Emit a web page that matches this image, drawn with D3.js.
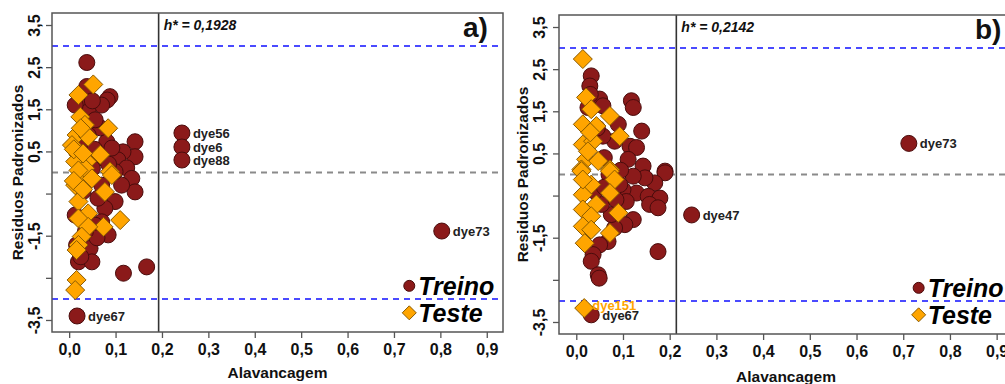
<!DOCTYPE html>
<html>
<head>
<meta charset="utf-8">
<script src="https://cdn.jsdelivr.net/npm/d3@7"></script>
<style>
  body { margin: 0; background: #fff; }
  svg text { font-family: "Liberation Sans", Arial, sans-serif; }
</style>
</head>
<body>
<svg id="chart" width="1005" height="384"></svg>
<script>
// ---- data ----
// panel a) training set (circles) [leverage, std residual]
var treinoA = [
  [0.038, 2.61], [0.088, 1.80], [0.082, 1.72], [0.070, 1.60], [0.024, 1.65], [0.038, 2.04],
  [0.041, 1.44], [0.142, 0.73], [0.142, 0.375], [0.116, 0.49], [0.105, 0.30], [0.081, 0.73],
  [0.067, 1.06], [0.056, 1.25], [0.092, 0.58], [0.062, 0.34], [0.041, 0.89], [0.013, 1.60],
  [0.124, 0.11], [0.135, -0.14], [0.142, -0.46], [0.113, -0.30], [0.099, -0.69], [0.077, -0.85],
  [0.070, -1.17], [0.084, -1.48], [0.056, -1.25], [0.045, -1.80], [0.020, -2.12], [0.049, -2.12],
  [0.117, -2.39], [0.167, -2.24], [0.013, -1.01], [0.041, -0.06], [0.062, -0.61], [0.016, -1.72],
  [0.099, 0.02], [0.030, 0.60], [0.050, 0.10], [0.030, -0.45], [0.060, -1.55], [0.025, -2.00],
  [0.055, 0.55], [0.070, -0.30], [0.085, 0.20], [0.050, 1.70], [0.035, -1.40],
  [0.243, 0.937], [0.243, 0.605], [0.243, 0.296], [0.803, -1.389], [0.017, -3.405]
];
// panel a) test set (diamonds)
var testeA = [
  [0.052, 2.09], [0.020, 1.84], [0.024, 1.32], [0.034, 1.13], [0.084, 1.05], [0.016, 0.89],
  [0.041, 0.85], [0.020, 0.42], [0.067, 0.42], [0.038, 0.26], [0.013, 0.26], [0.088, 0.02],
  [0.006, 0.65], [0.092, -0.06], [0.077, -0.46], [0.020, -0.69], [0.041, -0.97], [0.020, -1.09],
  [0.074, -1.29], [0.110, -1.13], [0.041, -1.29], [0.027, -1.52], [0.020, -1.72], [0.016, -1.84],
  [0.016, -2.55], [0.013, -2.79], [0.020, -0.14], [0.034, 0.10], [0.013, -0.30], [0.049, -0.14],
  [0.010, 0.55], [0.030, 0.45], [0.020, 0.05], [0.010, -0.20], [0.030, -0.40], [0.025, 1.05]
];
// panel b) training set (circles)
var treinoB = [
  [0.032, 2.34], [0.029, 2.10], [0.050, 1.79], [0.057, 1.63], [0.118, 1.75], [0.122, 1.59],
  [0.090, 1.19], [0.140, 1.03], [0.115, 0.67], [0.129, 0.64], [0.082, 0.79], [0.111, 0.36],
  [0.143, 0.20], [0.190, 0.08], [0.057, 0.91], [0.025, 1.59], [0.190, 0.04], [0.168, -0.20],
  [0.147, -0.08], [0.122, -0.04], [0.129, -0.44], [0.154, -0.52], [0.179, -0.56], [0.157, -0.71],
  [0.175, -0.79], [0.100, -0.36], [0.107, -0.64], [0.122, -1.07], [0.104, -1.19], [0.082, -1.27],
  [0.068, -1.59], [0.050, -1.67], [0.036, -1.90], [0.032, -2.06], [0.047, -2.38], [0.049, -2.46],
  [0.175, -1.83], [0.093, -0.24], [0.075, -0.95], [0.054, -0.71], [0.060, 0.40], [0.045, 1.10],
  [0.070, 0.00], [0.040, -0.40], [0.030, 1.90], [0.095, 0.10], [0.060, -0.30], [0.085, -0.60],
  [0.712, 0.738], [0.247, -0.96], [0.032, -3.33]
];
// panel b) test set (diamonds)
var testeB = [
  [0.014, 2.74], [0.021, 1.83], [0.032, 1.55], [0.072, 1.39], [0.014, 1.19], [0.043, 1.15],
  [0.093, 0.91], [0.014, 0.71], [0.036, 0.79], [0.021, 0.36], [0.047, 0.32], [0.072, 0.12],
  [0.011, 0.12], [0.011, 0.08], [0.032, -0.24], [0.072, 0.08], [0.082, -0.12], [0.072, -0.44],
  [0.014, -0.48], [0.043, -0.71], [0.014, -0.83], [0.090, -0.91], [0.032, -0.99], [0.014, -1.23],
  [0.032, -1.31], [0.072, -1.39], [0.018, -1.63], [0.014, -0.12], [0.025, 0.55], [0.030, 1.00],
  [0.017, -3.17]
];
// labelled compounds [name, leverage, residual]
var rotulosA = [["dye56", 0.243, 0.937], ["dye6", 0.243, 0.605], ["dye88", 0.243, 0.296],
                ["dye73", 0.803, -1.389], ["dye67", 0.017, -3.405]];
var rotulosB = [["dye73", 0.712, 0.738], ["dye47", 0.247, -0.96], ["dye67", 0.032, -3.33]];
var rotuloTesteB = [["dye151", 0.017, -3.17]];

var xTicks = [0, 0.1, 0.2, 0.3, 0.4, 0.5, 0.6, 0.7, 0.8, 0.9];
var yTicks = [3.5, 2.5, 1.5, 0.5, -0.5, -1.5, -2.5, -3.5];
var yTickLabels = ["3,5", "2,5", "1,5", "0,5", "", "-1,5", "", "-3,5"];
var hStar = [0.1928, 0.2142];
var limite = 3;   // +-3 std residual lines

var svg = d3.select("#chart");
var corTreino = "#8b1a1a", bordaTreino = "#4a0c0c";
var corTeste = "#ffa500", bordaTeste = "#8a5a00";

function diamond(r) {
  return "M0," + (-r) + "L" + r + ",0L0," + r + "L" + (-r) + ",0Z";
}

function drawPanel(p) {
  var x = d3.scaleLinear().domain([-0.037, 0.935]).range([p.left, p.right]);
  var y = d3.scaleLinear().domain([-3.785, 3.785]).range([p.bottom, p.top]);
  var g = svg.append("g");

  // reference lines
  g.append("line")
    .attr("x1", p.left).attr("x2", p.right)
    .attr("y1", y(0)).attr("y2", y(0))
    .attr("stroke", "#8a8a8a").attr("stroke-width", 2).attr("stroke-dasharray", "6,5");
  [limite, -limite].forEach(function(v) {
    g.append("line")
      .attr("x1", p.left).attr("x2", p.right)
      .attr("y1", y(v)).attr("y2", y(v))
      .attr("stroke", "#4a4aff").attr("stroke-width", 2).attr("stroke-dasharray", "6,5");
  });
  g.append("line")
    .attr("x1", x(p.h)).attr("x2", x(p.h))
    .attr("y1", p.top).attr("y2", p.bottom)
    .attr("stroke", "#333").attr("stroke-width", 1.6);

  // points: training then test
  g.selectAll(".tr").data(p.treino).enter().append("circle")
    .attr("cx", function(d) { return x(d[0]); })
    .attr("cy", function(d) { return y(d[1]); })
    .attr("r", p.r)
    .attr("fill", corTreino).attr("stroke", bordaTreino).attr("stroke-width", 1);
  g.selectAll(".te").data(p.teste).enter().append("path")
    .attr("d", diamond(p.r + 1.5))
    .attr("transform", function(d) { return "translate(" + x(d[0]) + "," + y(d[1]) + ")"; })
    .attr("fill", corTeste).attr("stroke", bordaTeste).attr("stroke-width", 1);

  // point labels
  g.selectAll(".lab").data(p.rotulos).enter().append("text")
    .attr("x", function(d) { return x(d[1]) + p.r + 3; })
    .attr("y", function(d) { return y(d[2]); })
    .attr("dy", "0.36em")
    .attr("font-size", 13).attr("font-weight", "bold").attr("fill", "#222")
    .text(function(d) { return d[0]; });
  if (p.rotulosTeste) {
    g.selectAll(".labt").data(p.rotulosTeste).enter().append("text")
      .attr("x", function(d) { return x(d[1]) + p.r; })
      .attr("y", function(d) { return y(d[2]) - 3; })
      .attr("dy", "0.36em")
      .attr("font-size", 13).attr("font-weight", "bold").attr("fill", corTeste)
      .text(function(d) { return d[0]; });
  }

  // box
  g.append("rect")
    .attr("x", p.left).attr("y", p.top)
    .attr("width", p.right - p.left).attr("height", p.bottom - p.top)
    .attr("fill", "none").attr("stroke", "#555").attr("stroke-width", 1.5);

  // axes
  var xAxis = g.append("g").attr("transform", "translate(0," + p.bottom + ")")
    .call(d3.axisBottom(x).tickValues(xTicks).tickSize(6).tickPadding(6)
      .tickFormat(function(d) { return d3.format(".1f")(d).replace(".", ","); }));
  var yAxis = g.append("g").attr("transform", "translate(" + p.left + ",0)")
    .call(d3.axisLeft(y).tickValues(yTicks).tickSize(6)
      .tickFormat(function(d, i) { return yTickLabels[i]; }));
  [xAxis, yAxis].forEach(function(a) {
    a.select(".domain").remove();
    a.selectAll("line").attr("stroke", "#555").attr("stroke-width", 1.3);
    a.selectAll("text").attr("font-size", 16).attr("font-weight", "bold").attr("fill", "#111")
      .attr("font-family", "Liberation Sans, Arial, sans-serif");
  });
  yAxis.selectAll("text")
    .attr("x", null).attr("dy", null).attr("text-anchor", "middle")
    .attr("transform", "translate(" + (-p.left + p.ylabX) + ",0) rotate(-90) translate(0,5)");

  // axis titles
  g.append("text")
    .attr("x", (p.left + p.right) / 2).attr("y", p.xTitleY)
    .attr("text-anchor", "middle")
    .attr("font-size", 15.5).attr("font-weight", "bold").attr("fill", "#111")
    .text("Alavancagem");
  g.append("text")
    .attr("transform", "translate(" + p.yTitleX + "," + ((p.top + p.bottom) / 2) + ") rotate(-90)")
    .attr("text-anchor", "middle")
    .attr("font-size", 15.5).attr("font-weight", "bold").attr("fill", "#111")
    .text("Residuos Padronizados");

  // h* text
  g.append("text")
    .attr("x", x(p.h) + 5).attr("y", p.top + 17)
    .attr("font-size", 14).attr("font-weight", "bold").attr("font-style", "italic").attr("fill", "#111")
    .text("h* = " + String(p.h).replace(".", ","));

  // panel letter
  g.append("text")
    .attr("x", p.letterX).attr("y", p.top + 24)
    .attr("font-family", "Liberation Serif, Times New Roman, serif")
    .attr("font-size", 28).attr("font-weight", "bold").attr("fill", "#111")
    .text(p.letter);

  // legend
  var lx = x(0.733);
  var leg = g.append("g");
  leg.append("circle").attr("cx", lx).attr("cy", y(-2.69)).attr("r", 5.5)
    .attr("fill", corTreino).attr("stroke", bordaTreino);
  leg.append("path").attr("d", diamond(7))
    .attr("transform", "translate(" + lx + "," + y(-3.33) + ")")
    .attr("fill", corTeste).attr("stroke", bordaTeste);
  leg.selectAll("text").data(["Treino", "Teste"]).enter().append("text")
    .attr("x", lx + 9)
    .attr("y", function(d, i) { return y(i === 0 ? -2.69 : -3.33) + 9; })
    .attr("font-size", 25).attr("font-weight", "bold").attr("font-style", "italic").attr("fill", "#000")
    .text(function(d) { return d; });
}

drawPanel({ left: 52, right: 503, top: 13, bottom: 332, h: hStar[0], r: 8,
  treino: treinoA, teste: testeA, rotulos: rotulosA,
  ylabX: 35, yTitleX: 23, xTitleY: 378, letter: "a)", letterX: 463 });
drawPanel({ left: 559, right: 1013, top: 15, bottom: 334, h: hStar[1], r: 8,
  treino: treinoB, teste: testeB, rotulos: rotulosB, rotulosTeste: rotuloTesteB,
  ylabX: 540, yTitleX: 528, xTitleY: 382, letter: "b)", letterX: 975 });
</script>
</body>
</html>
